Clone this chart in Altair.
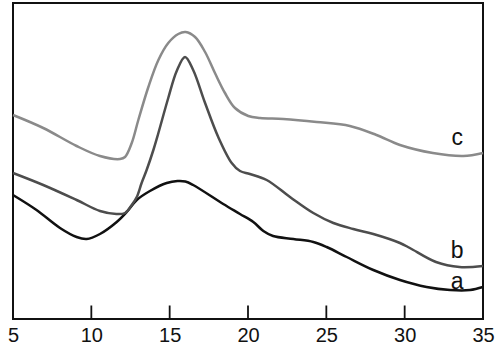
import altair as alt
import pandas as pd

# Curve values (y in plot units, 0 = bottom of frame, 316 = top)
a_x = [5.0, 6.5, 8.0, 9.06, 9.7, 10.55, 11.62, 12.26, 12.9, 13.74, 14.81, 15.5, 16.0, 16.5, 18.42,
       19.49, 20.34, 20.98, 21.6, 22.9, 24.17, 25.02, 26.3, 28.0, 29.7, 31.4, 32.9, 34.17, 35.0]
a_py = [195, 210, 228, 237, 239, 234, 222, 212, 200, 191, 183, 181, 181.5, 185, 204,
        214, 222, 231, 236, 239, 242, 247, 257, 270, 280, 287, 290, 290, 287]

b_x = [5.0, 6.93, 9.06, 10.55, 11.6, 12.15, 12.58, 12.9, 13.21, 13.53, 13.96, 14.28, 14.91, 15.45,
       15.98, 16.5, 17.26, 18.1, 18.96, 19.49, 20.12, 21.19, 22.68, 24.17, 25.45, 26.72, 28.0,
       29.7, 30.33, 32.0, 33.5, 35.0]
b_py = [173, 185, 200, 211, 214, 213, 205, 197, 183, 170, 150, 133, 98, 71,
        57, 70, 103, 137, 163, 171, 174, 180, 197, 213, 223, 229, 234,
        243, 248, 262, 267, 266]

c_x = [5.0, 6.93, 9.06, 10.55, 11.83, 12.15, 12.58, 13.0, 13.64, 14.28, 14.91, 15.55, 16.02, 16.62,
       17.26, 17.89, 18.53, 19.17, 20.02, 20.77, 22.25, 24.38, 26.5, 28.2, 29.7, 31.8, 33.74, 35.0]
c_py = [115, 128, 146, 156, 159, 157, 143, 120, 87, 60, 43, 34, 32, 37,
        52, 73, 93, 108, 116, 118, 119, 122, 126, 135, 145, 153, 156, 153]

series_names = ["a", "b", "c"]
series_colors = ["#111111", "#4d4d4d", "#8a8a8a"]

label_x = [33.35, 33.35, 33.35]
label_py = [289, 257.5, 145]

tick_values = [5, 10, 15, 20, 25, 30, 35]
inner_ticks = [10, 15, 20, 25, 30]
TICK_LEN = 13.5

BOTTOM = 319
rows = []
for name, xs, pys in [("a", a_x, a_py), ("b", b_x, b_py), ("c", c_x, c_py)]:
    for x, py in zip(xs, pys):
        rows.append({"series": name, "x": x, "y": BOTTOM - py})
df = pd.DataFrame(rows)

lab = pd.DataFrame({"series": series_names, "x": label_x,
                    "y": [BOTTOM - p for p in label_py]})

trows = []
for t in inner_ticks:
    trows.append({"tick": str(t), "tx": t, "ty": 0.0})
    trows.append({"tick": str(t), "tx": t, "ty": TICK_LEN})
tk = pd.DataFrame(trows)

lines = alt.Chart(df).mark_line(interpolate="catmull-rom", strokeWidth=2.5).encode(
    x=alt.X("x:Q", scale=alt.Scale(domain=[5, 35], nice=False, zero=False),
            axis=alt.Axis(values=tick_values, title=None, domain=False, ticks=False,
                          grid=False, labelFont="Liberation Sans", labelFontSize=20,
                          labelColor="#111", labelPadding=6, labelFlush=False)),
    y=alt.Y("y:Q", scale=alt.Scale(domain=[0, 316], nice=False, zero=False), axis=None),
    color=alt.Color("series:N", scale=alt.Scale(domain=series_names, range=series_colors),
                    legend=None),
)

tick_lines = alt.Chart(tk).mark_line(color="#111111", strokeWidth=1.8).encode(
    x="tx:Q",
    y="ty:Q",
    detail="tick:N",
)

texts = alt.Chart(lab).mark_text(font="Liberation Sans", fontSize=23, baseline="alphabetic",
                                 align="center", color="#111").encode(
    x="x:Q",
    y="y:Q",
    text="series:N",
)

chart = alt.layer(lines, tick_lines, texts).properties(
    width=470, height=316,
    padding={"left": 13, "top": 3, "right": 17, "bottom": 26},
    background="white",
).configure_view(stroke="#111", strokeWidth=2)
chart = chart.properties(autosize=alt.AutoSizeParams(type="none"))

chart.save("out.html", embed_options={"renderer": "svg", "actions": False})
